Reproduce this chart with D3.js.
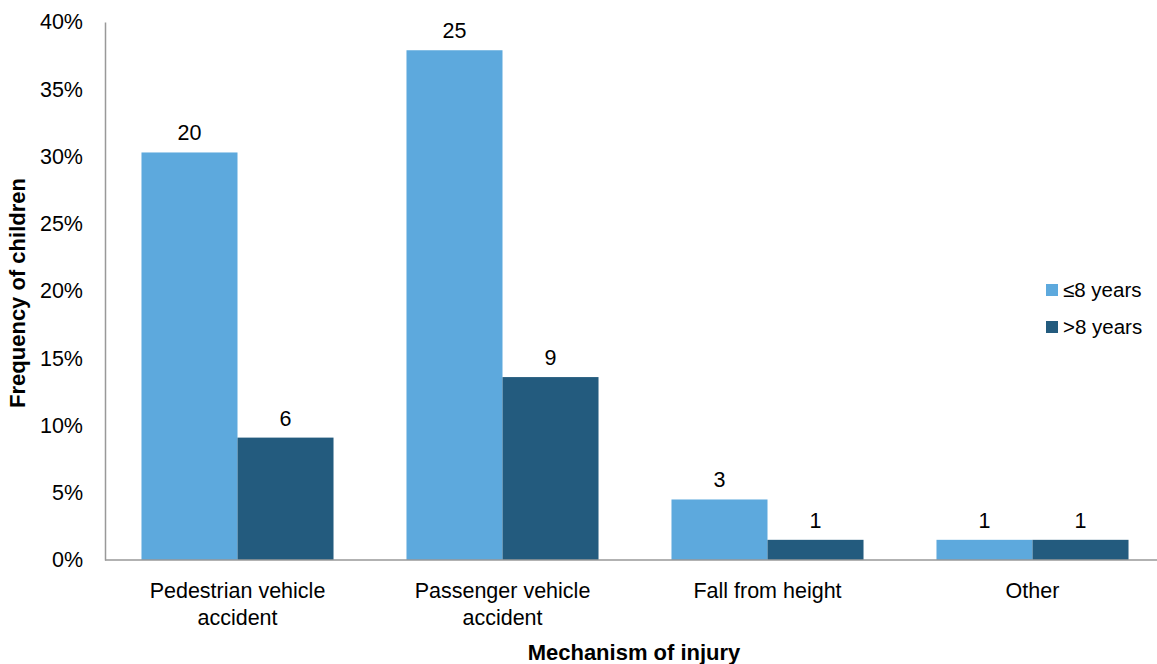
<!DOCTYPE html>
<html>
<head>
<meta charset="utf-8">
<script src="https://cdn.jsdelivr.net/npm/d3@7"></script>
<style>
  body { margin: 0; background: #fff; }
  svg text { font-family: "Liberation Sans", Arial, sans-serif; fill: #000; }
</style>
</head>
<body>
<div id="chart"></div>
<script>
//chart size
const width = 1157;
const height = 664;
const margin = { top: 22, right: -8, bottom: 104, left: 105 };
const innerwidth = width - margin.left - margin.right;
const innerheight = height - margin.top - margin.bottom;

//categories and series
const mechanisms = [["Pedestrian vehicle", "accident"], ["Passenger vehicle", "accident"], ["Fall from height"], ["Other"]];
const mechanismKeys = ["Pedestrian vehicle accident", "Passenger vehicle accident", "Fall from height", "Other"];
const ageGroups = ["≤8 years", ">8 years"];
const colors = ["#5DA9DD", "#235B7E"];

//percent of children for each age group, and the counts shown above the bars
const youngPercent = [30.3, 37.9, 4.5, 1.5];
const oldPercent = [9.1, 13.6, 1.5, 1.5];
const youngCount = [20, 25, 3, 1];
const oldCount = [6, 9, 1, 1];

const yTicks = [0, 5, 10, 15, 20, 25, 30, 35, 40];

const data = [];
mechanismKeys.forEach(function (m, i) {
    data.push({ mechanism: m, group: ageGroups[0], value: youngPercent[i], count: youngCount[i] });
    data.push({ mechanism: m, group: ageGroups[1], value: oldPercent[i], count: oldCount[i] });
});

const x0 = d3.scaleBand()
    .domain(mechanismKeys)
    .range([0, 1060]);

const x1 = d3.scaleBand()
    .domain(ageGroups)
    .range([0, x0.bandwidth()])
    .paddingOuter(0.38);

const y = d3.scaleLinear()
    .domain([0, 40])
    .range([innerheight, 0]);

const color = d3.scaleOrdinal().domain(ageGroups).range(colors);

const svg = d3.select("#chart")
    .append("svg")
    .attr("width", width)
    .attr("height", height)
    .append("g")
    .attr("transform", "translate(" + margin.left + "," + margin.top + ")");

//y axis with no ticks
const yAxis = svg.append("g")
    .call(d3.axisLeft(y).tickValues(yTicks).tickSize(0).tickPadding(22).tickFormat(function (d) { return d + "%"; }));
yAxis.select(".domain").attr("stroke", "#999").attr("stroke-width", 1.5);
yAxis.selectAll("text").style("font-size", "21.5px").attr("font-family", null);

//bars
svg.selectAll("rect.bar")
    .data(data)
    .enter()
    .append("rect")
    .attr("class", "bar")
    .attr("x", function (d) { return x0(d.mechanism) + x1(d.group); })
    .attr("y", function (d) { return y(d.value); })
    .attr("width", x1.bandwidth())
    .attr("height", function (d) { return innerheight - y(d.value); })
    .attr("fill", function (d) { return color(d.group); });

//count labels
svg.selectAll("text.count")
    .data(data)
    .enter()
    .append("text")
    .attr("class", "count")
    .attr("x", function (d) { return x0(d.mechanism) + x1(d.group) + x1.bandwidth() / 2; })
    .attr("y", function (d) { return y(d.value) - 12; })
    .attr("text-anchor", "middle")
    .style("font-size", "21.5px")
    .text(function (d) { return d.count; });

//x axis line
svg.append("line")
    .attr("x1", 0)
    .attr("x2", width - margin.left)
    .attr("y1", innerheight)
    .attr("y2", innerheight)
    .attr("stroke", "#999")
    .attr("stroke-width", 1.5);

//category labels, two lines where needed
mechanismKeys.forEach(function (m, i) {
    const t = svg.append("text")
        .attr("x", x0(m) + x0.bandwidth() / 2)
        .attr("y", innerheight + 38)
        .attr("text-anchor", "middle")
        .style("font-size", "21.5px");
    mechanisms[i].forEach(function (line, j) {
        t.append("tspan")
            .attr("x", x0(m) + x0.bandwidth() / 2)
            .attr("dy", j === 0 ? 0 : 27)
            .text(line);
    });
});

//axis titles
svg.append("text")
    .attr("x", 529)
    .attr("y", innerheight + 100)
    .attr("text-anchor", "middle")
    .style("font-size", "22px")
    .style("font-weight", "bold")
    .text("Mechanism of injury");

svg.append("text")
    .attr("transform", "rotate(-90)")
    .attr("x", -271)
    .attr("y", -80)
    .attr("text-anchor", "middle")
    .style("font-size", "22px")
    .style("font-weight", "bold")
    .text("Frequency of children");

//legend
ageGroups.forEach(function (g, i) {
    svg.append("rect")
        .attr("x", 941)
        .attr("y", 262 + i * 37)
        .attr("width", 12)
        .attr("height", 12)
        .attr("fill", color(g));
    svg.append("text")
        .attr("x", 958)
        .attr("y", 275 + i * 37)
        .style("font-size", "20.5px")
        .text(g);
});
</script>
</body>
</html>
